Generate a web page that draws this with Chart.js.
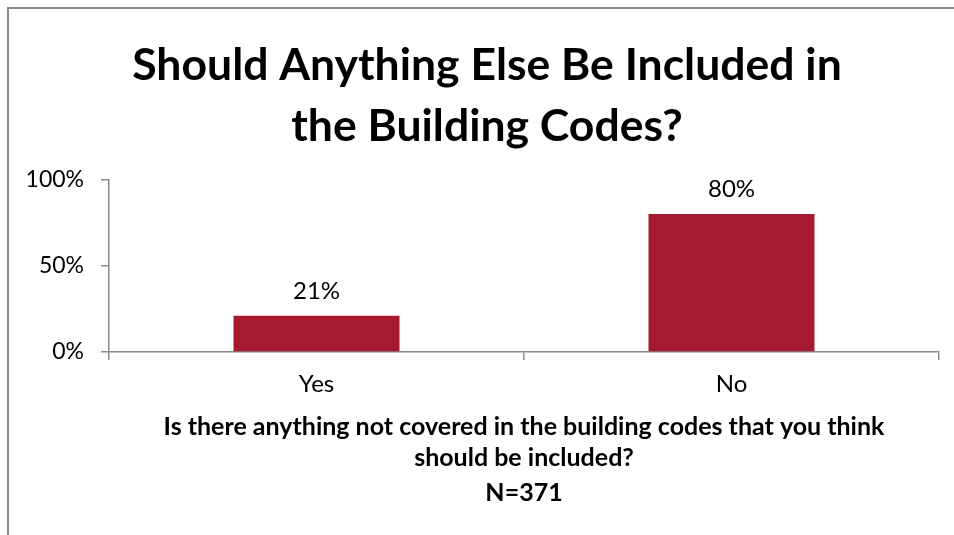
<!DOCTYPE html>
<html>
<head>
<meta charset="utf-8">
<script src="https://cdn.jsdelivr.net/npm/chart.js@4/dist/chart.umd.min.js"></script>
<style>
  html, body { margin: 0; padding: 0; background: #fff; overflow: hidden; }
  canvas { display: block; }
</style>
</head>
<body>
<canvas id="c" width="954" height="535"></canvas>
<script>
const categories = ['Yes', 'No'];
const shares = [21, 80];
const yTicks = [0, 50, 100];
const titleLines = ['Should Anything Else Be Included in', 'the Building Codes?'];
const axisTitleLines = ['Is there anything not covered in the building codes that you think', 'should be included?', 'N=371'];

const FONT = 'Lato, "Open Sans", sans-serif';
const BAR = '#a61a31';
const AXIS = '#8a8a8a';

// outer chart frame: only its top and left edges fall inside the canvas
const framePlugin = {
  id: 'frame',
  beforeDraw(chart) {
    const ctx = chart.ctx;
    ctx.save();
    ctx.strokeStyle = AXIS;
    ctx.lineWidth = 2;
    ctx.beginPath();
    ctx.moveTo(8, chart.height + 5);
    ctx.lineTo(8, 8);
    ctx.lineTo(chart.width + 5, 8);
    ctx.stroke();
    ctx.restore();
  }
};

const textPlugin = {
  id: 'texts',
  afterDraw(chart) {
    const ctx = chart.ctx;
    const area = chart.chartArea;
    ctx.save();
    ctx.fillStyle = '#000';
    ctx.textAlign = 'center';
    ctx.textBaseline = 'alphabetic';

    // chart title
    ctx.font = 'bold 44.5px ' + FONT;
    const titleBase = [80, 141];
    titleLines.forEach((t, i) => ctx.fillText(t, 487, titleBase[i]));

    // category axis title
    ctx.font = 'bold 25px ' + FONT;
    const cx = (area.left + area.right) / 2;
    const axisBase = [435, 466, 501];
    axisTitleLines.forEach((t, i) => ctx.fillText(t, cx, axisBase[i]));

    // value labels above bars
    ctx.font = '24px ' + FONT;
    ctx.textBaseline = 'middle';
    const meta = chart.getDatasetMeta(0);
    meta.data.forEach((bar, i) => {
      ctx.fillText(shares[i] + '%', bar.x, bar.y - 25);
    });
    ctx.restore();
  }
};

new Chart(document.getElementById('c'), {
  type: 'bar',
  data: {
    labels: categories,
    datasets: [{
      data: shares,
      backgroundColor: BAR,
      borderWidth: 0,
      barPercentage: 0.4,
      categoryPercentage: 1.0
    }]
  },
  options: {
    responsive: false,
    animation: false,
    events: [],
    layout: { padding: { top: 179.5, right: 15, left: 0, bottom: 0 } },
    plugins: {
      legend: { display: false },
      title: { display: false },
      tooltip: { enabled: false }
    },
    scales: {
      x: {
        offset: true,
        grid: {
          offset: true,
          drawOnChartArea: false,
          drawTicks: true,
          tickLength: 8,
          color: AXIS,
          lineWidth: 1.5
        },
        border: { color: AXIS, width: 1.5 },
        ticks: {
          color: '#000',
          font: { family: FONT, size: 24 },
          padding: 10,
          maxRotation: 0
        },
        afterFit(scale) { scale.height = 535 - 352; }
      },
      y: {
        min: 0,
        max: 100,
        afterBuildTicks(scale) { scale.ticks = yTicks.map(v => ({ value: v })); },
        grid: {
          drawOnChartArea: false,
          drawTicks: true,
          tickLength: 8,
          color: AXIS,
          lineWidth: 1.5
        },
        border: { color: AXIS, width: 1.5 },
        ticks: {
          color: '#000',
          font: { family: FONT, size: 23 },
          padding: 17,
          callback: v => v + '%'
        },
        afterFit(scale) { scale.width = 109; }
      }
    }
  },
  plugins: [framePlugin, textPlugin]
});
</script>
</body>
</html>
